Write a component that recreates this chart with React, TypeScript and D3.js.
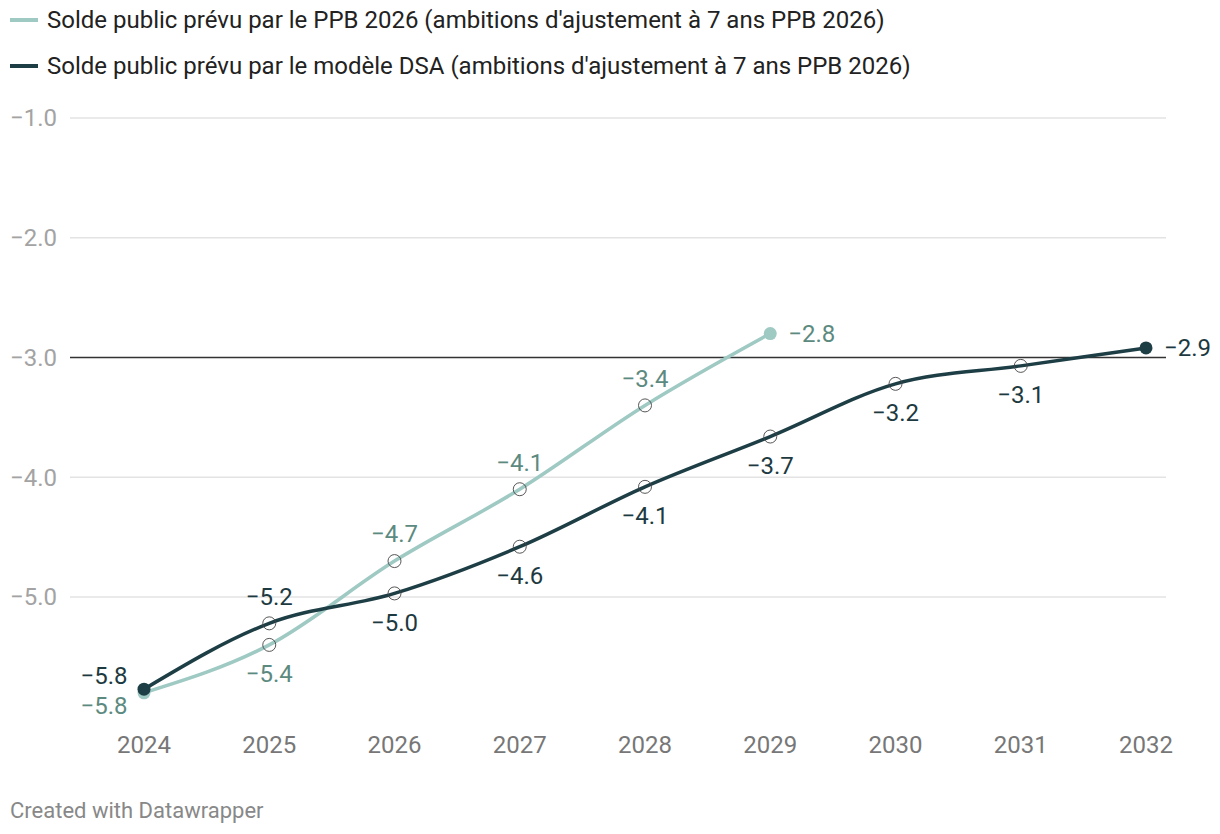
import React, { useEffect, useRef } from 'react';
import * as d3 from 'd3';

const years = [2024, 2025, 2026, 2027, 2028, 2029, 2030, 2031, 2032];
const ppbValues = [-5.8, -5.4, -4.7, -4.1, -3.4, -2.8];
const dsaValues = [-5.77, -5.22, -4.97, -4.58, -4.08, -3.66, -3.22, -3.07, -2.92];
const yTicks = [-1, -2, -3, -4, -5];
const seriesNames = [
  "Solde public prévu par le PPB 2026 (ambitions d'ajustement à 7 ans PPB 2026)",
  "Solde public prévu par le modèle DSA (ambitions d'ajustement à 7 ans PPB 2026)",
];
// where each value label goes
const ppbLabelPos = ['leftBelow', 'below', 'above', 'above', 'above', 'right'];
const dsaLabelPos = ['leftAbove', 'above', 'below', 'below', 'below', 'below', 'below', 'below', 'right'];

const fmt = (v: number) => v.toFixed(1).replace('-', '\u2212');

const App: React.FC = () => {
  const ref = useRef<SVGSVGElement | null>(null);

  useEffect(() => {
    document.body.style.margin = '0';
    const width = 1220;
    const height = 834;
    const fs = '24px';
    const svg = d3.select(ref.current);
    svg.selectAll('*').remove();
    svg.attr('width', width).attr('height', height)
      .style('font-family', 'Roboto, sans-serif');

    const x = d3.scaleLinear().domain([2024, 2032]).range([144, 1146]);
    const y = d3.scaleLinear().domain([-1, -5]).range([118, 597]);

    const lightColor = '#9fc9c3';
    const darkColor = '#1e3e46';
    const lightLabel = '#5c8a80';
    const darkLabel = '#1d3a41';

    // legend
    const legend = svg.append('g');
    [lightColor, darkColor].forEach((c, i) => {
      const g = legend.append('g').attr('transform', `translate(10, ${20 + i * 46})`);
      g.append('line').attr('x1', 0).attr('x2', 28).attr('y1', 0).attr('y2', 0)
        .attr('stroke', c).attr('stroke-width', 4);
      g.append('text').attr('x', 37).attr('dy', '0.35em')
        .style('font-size', fs).attr('fill', '#222').text(seriesNames[i]);
    });

    // gridlines
    yTicks.forEach(t => {
      svg.append('line')
        .attr('x1', 70).attr('x2', 1166)
        .attr('y1', y(t)).attr('y2', y(t))
        .attr('stroke', t === -3 ? '#333' : '#e3e3e3')
        .attr('stroke-width', 1.5);
      svg.append('text')
        .attr('x', 10).attr('y', y(t)).attr('dy', '0.35em')
        .style('font-size', fs).attr('fill', '#a3a3a3')
        .text(fmt(t));
    });

    // x axis labels
    years.forEach(yr => {
      svg.append('text')
        .attr('x', x(yr)).attr('y', 745).attr('dy', '0.35em')
        .attr('text-anchor', 'middle')
        .style('font-size', fs).attr('fill', '#777')
        .text(yr);
    });

    const line = d3.line<number>()
      .x((_, i) => x(years[i]))
      .y(d => y(d))
      .curve(d3.curveMonotoneX);

    const drawSeries = (vals: number[], color: string, labelColor: string, pos: string[]) => {
      svg.append('path')
        .datum(vals)
        .attr('d', line)
        .attr('fill', 'none')
        .attr('stroke', color)
        .attr('stroke-width', 3.5)
        .attr('stroke-linecap', 'round');

      vals.forEach((v, i) => {
        const cx = x(years[i]);
        const cy = y(v);
        const isEnd = i === 0 || i === vals.length - 1;
        if (isEnd) {
          svg.append('circle').attr('cx', cx).attr('cy', cy).attr('r', 6.5).attr('fill', color);
        } else {
          svg.append('circle').attr('cx', cx).attr('cy', cy).attr('r', 6.5)
            .attr('fill', 'none').attr('stroke', '#444').attr('stroke-width', 0.9);
        }
        const p = pos[i];
        const t = svg.append('text')
          .style('font-size', fs).attr('fill', labelColor)
          .attr('dy', '0.35em')
          .text(fmt(v));
        if (p === 'above') t.attr('x', cx).attr('y', cy - 27).attr('text-anchor', 'middle');
        if (p === 'below') t.attr('x', cx).attr('y', cy + 29).attr('text-anchor', 'middle');
        if (p === 'right') t.attr('x', cx + 18).attr('y', cy);
        if (p === 'leftAbove') t.attr('x', cx - 40).attr('y', cy - 14).attr('text-anchor', 'middle');
        if (p === 'leftBelow') t.attr('x', cx - 40).attr('y', cy + 13).attr('text-anchor', 'middle');
      });
    };

    drawSeries(ppbValues, lightColor, lightLabel, ppbLabelPos);
    drawSeries(dsaValues, darkColor, darkLabel, dsaLabelPos);

    svg.append('text')
      .attr('x', 10).attr('y', 810).attr('dy', '0.35em')
      .style('font-size', '22px').attr('fill', '#888')
      .text('Created with Datawrapper');
  }, []);

  return <svg ref={ref}></svg>;
};

export default App;
